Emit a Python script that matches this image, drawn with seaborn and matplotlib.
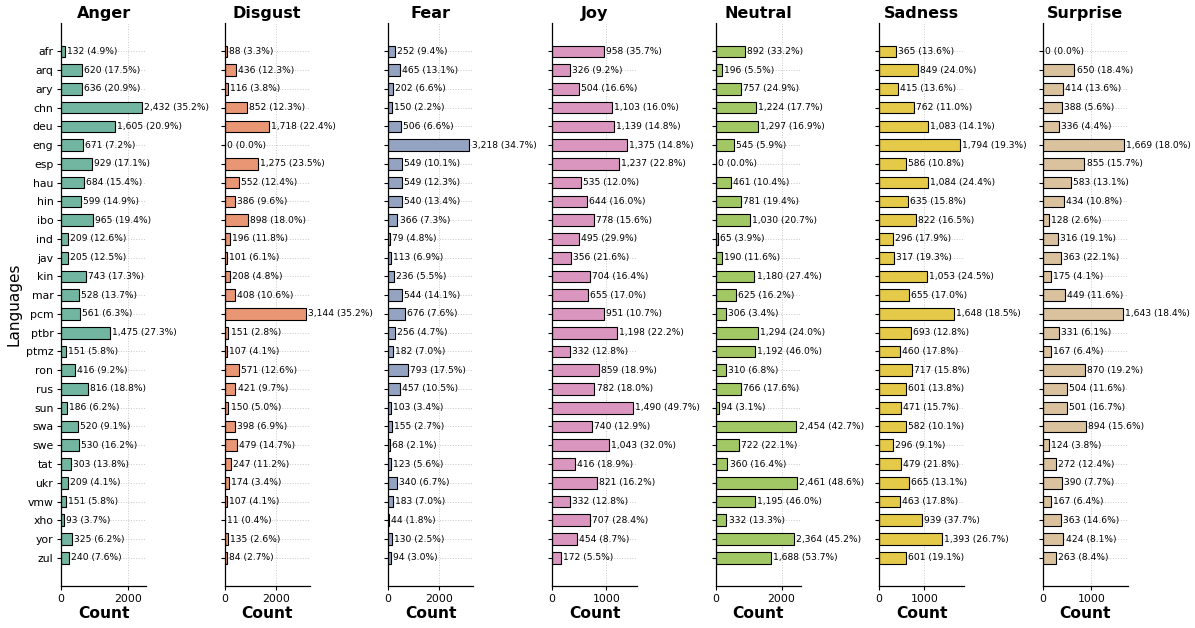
import matplotlib
matplotlib.use("Agg")
import matplotlib.pyplot as plt
import seaborn as sns
import pandas as pd

languages = ["afr", "arq", "ary", "chn", "deu", "eng", "esp", "hau", "hin", "ibo",
             "ind", "jav", "kin", "mar", "pcm", "ptbr", "ptmz", "ron", "rus", "sun",
             "swa", "swe", "tat", "ukr", "vmw", "xho", "yor", "zul"]

emotions = ["Anger", "Disgust", "Fear", "Joy", "Neutral", "Sadness", "Surprise"]

anger_counts = [132, 620, 636, 2432, 1605, 671, 929, 684, 599, 965, 209, 205, 743, 528,
                561, 1475, 151, 416, 816, 186, 520, 530, 303, 209, 151, 93, 325, 240]
anger_pct = [4.9, 17.5, 20.9, 35.2, 20.9, 7.2, 17.1, 15.4, 14.9, 19.4, 12.6, 12.5, 17.3, 13.7,
             6.3, 27.3, 5.8, 9.2, 18.8, 6.2, 9.1, 16.2, 13.8, 4.1, 5.8, 3.7, 6.2, 7.6]

disgust_counts = [88, 436, 116, 852, 1718, 0, 1275, 552, 386, 898, 196, 101, 208, 408,
                  3144, 151, 107, 571, 421, 150, 398, 479, 247, 174, 107, 11, 135, 84]
disgust_pct = [3.3, 12.3, 3.8, 12.3, 22.4, 0.0, 23.5, 12.4, 9.6, 18.0, 11.8, 6.1, 4.8, 10.6,
               35.2, 2.8, 4.1, 12.6, 9.7, 5.0, 6.9, 14.7, 11.2, 3.4, 4.1, 0.4, 2.6, 2.7]

fear_counts = [252, 465, 202, 150, 506, 3218, 549, 549, 540, 366, 79, 113, 236, 544,
               676, 256, 182, 793, 457, 103, 155, 68, 123, 340, 183, 44, 130, 94]
fear_pct = [9.4, 13.1, 6.6, 2.2, 6.6, 34.7, 10.1, 12.3, 13.4, 7.3, 4.8, 6.9, 5.5, 14.1,
            7.6, 4.7, 7.0, 17.5, 10.5, 3.4, 2.7, 2.1, 5.6, 6.7, 7.0, 1.8, 2.5, 3.0]

joy_counts = [958, 326, 504, 1103, 1139, 1375, 1237, 535, 644, 778, 495, 356, 704, 655,
              951, 1198, 332, 859, 782, 1490, 740, 1043, 416, 821, 332, 707, 454, 172]
joy_pct = [35.7, 9.2, 16.6, 16.0, 14.8, 14.8, 22.8, 12.0, 16.0, 15.6, 29.9, 21.6, 16.4, 17.0,
           10.7, 22.2, 12.8, 18.9, 18.0, 49.7, 12.9, 32.0, 18.9, 16.2, 12.8, 28.4, 8.7, 5.5]

neutral_counts = [892, 196, 757, 1224, 1297, 545, 0, 461, 781, 1030, 65, 190, 1180, 625,
                  306, 1294, 1192, 310, 766, 94, 2454, 722, 360, 2461, 1195, 332, 2364, 1688]
neutral_pct = [33.2, 5.5, 24.9, 17.7, 16.9, 5.9, 0.0, 10.4, 19.4, 20.7, 3.9, 11.6, 27.4, 16.2,
               3.4, 24.0, 46.0, 6.8, 17.6, 3.1, 42.7, 22.1, 16.4, 48.6, 46.0, 13.3, 45.2, 53.7]

sadness_counts = [365, 849, 415, 762, 1083, 1794, 586, 1084, 635, 822, 296, 317, 1053, 655,
                  1648, 693, 460, 717, 601, 471, 582, 296, 479, 665, 463, 939, 1393, 601]
sadness_pct = [13.6, 24.0, 13.6, 11.0, 14.1, 19.3, 10.8, 24.4, 15.8, 16.5, 17.9, 19.3, 24.5, 17.0,
               18.5, 12.8, 17.8, 15.8, 13.8, 15.7, 10.1, 9.1, 21.8, 13.1, 17.8, 37.7, 26.7, 19.1]

surprise_counts = [0, 650, 414, 388, 336, 1669, 855, 583, 434, 128, 316, 363, 175, 449,
                   1643, 331, 167, 870, 504, 501, 894, 124, 272, 390, 167, 363, 424, 263]
surprise_pct = [0.0, 18.4, 13.6, 5.6, 4.4, 18.0, 15.7, 13.1, 10.8, 2.6, 19.1, 22.1, 4.1, 11.6,
                18.4, 6.1, 6.4, 19.2, 11.6, 16.7, 15.6, 3.8, 12.4, 7.7, 6.4, 14.6, 8.1, 8.4]

counts = [anger_counts, disgust_counts, fear_counts, joy_counts,
          neutral_counts, sadness_counts, surprise_counts]
percents = [anger_pct, disgust_pct, fear_pct, joy_pct,
            neutral_pct, sadness_pct, surprise_pct]

sns.set_style("ticks")
plt.rcParams["font.family"] = ["DejaVu Sans"]
plt.rcParams.update({"text.color": "black", "axes.labelcolor": "black",
                     "xtick.color": "black", "ytick.color": "black",
                     "axes.edgecolor": "black"})
palette = sns.color_palette("Set2", len(emotions))

fig, axes = plt.subplots(1, len(emotions), figsize=(11.95, 6.28), dpi=100, sharey=True)
fig.subplots_adjust(left=0.051, right=0.944, top=0.963, bottom=0.067, wspace=0.92)

for ax, emo, vals, pcts, col in zip(axes, emotions, counts, percents, palette):
    df = pd.DataFrame({"Language": languages, "Count": vals})
    sns.barplot(data=df, y="Language", x="Count", orient="h", color=col,
                edgecolor="black", linewidth=0.8, width=0.62, ax=ax, zorder=2)
    ax.grid(True, linestyle=":", color="#c8c8c8", linewidth=0.7, zorder=0)
    ax.set_axisbelow(True)
    for i, (v, p) in enumerate(zip(vals, pcts)):
        ax.annotate(f"{v:,} ({p:.1f}%)", xy=(v, i), xytext=(1.5, 0),
                    textcoords="offset points", va="center", ha="left",
                    fontsize=6.6, color="black", annotation_clip=False, zorder=3)
    ax.set_title(emo, fontsize=11.5, fontweight="bold", pad=4, color="black")
    ax.set_xlabel("Count", fontsize=11.2, fontweight="bold", labelpad=2)
    ax.set_ylabel("")
    ax.set_xlim(0, max(vals) * 1.05)
    ax.set_ylim(28.5, -1.5)
    ax.tick_params(axis="both", labelsize=7.8, length=3, width=0.8, pad=2.5)
    for s in ax.spines.values():
        s.set_linewidth(0.9)
    sns.despine(ax=ax)

axes[0].set_ylabel("Languages", fontsize=11, labelpad=3)
for ax in axes[1:]:
    ax.tick_params(axis="y", labelleft=False)

fig.savefig("out.png", dpi=100)
